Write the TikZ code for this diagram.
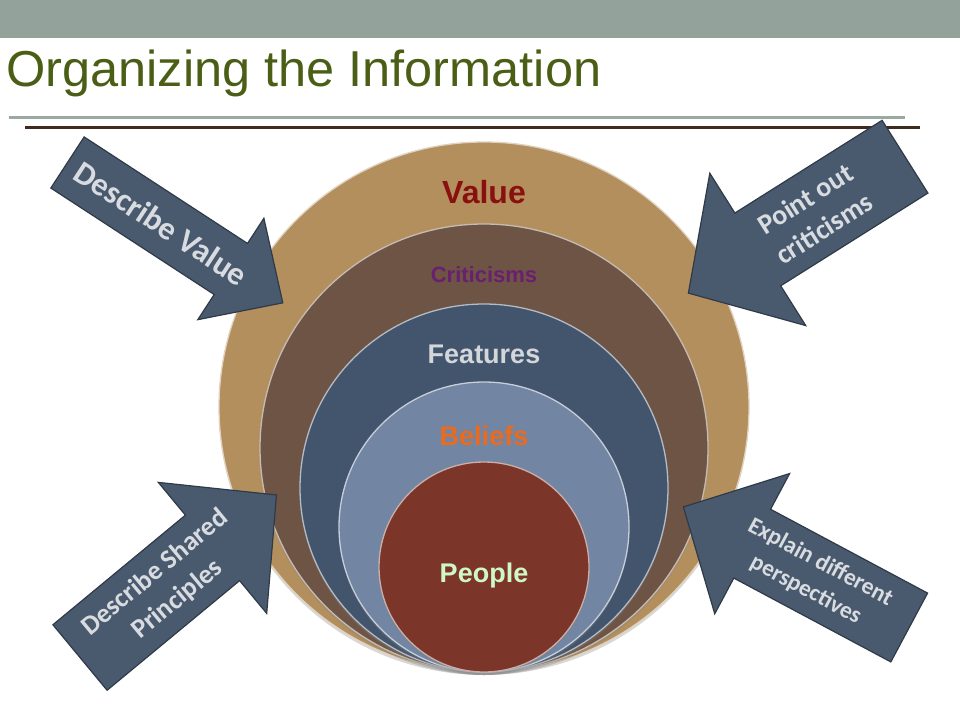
\documentclass[tikz,border=0pt]{standalone}
\usepackage{fontspec}
\setmainfont{Liberation Sans}
\newfontfamily\arrowfont{Carlito}
\usepackage{tikz}
\usetikzlibrary{positioning,shadows}

\definecolor{barGray}{HTML}{93A29A}
\definecolor{lineGray}{HTML}{9AA9A1}
\definecolor{lineBrown}{HTML}{3F2A20}
\definecolor{titleGreen}{HTML}{4B5E16}
\definecolor{valueTan}{HTML}{B38F5E}
\definecolor{critBrown}{HTML}{6D5445}
\definecolor{featBlue}{HTML}{42556D}
\definecolor{belBlue}{HTML}{7285A2}
\definecolor{peopleRed}{HTML}{7B3529}
\definecolor{arrowFill}{HTML}{4A5A6E}
\definecolor{arrowEdge}{HTML}{2E3A48}
\definecolor{arrowText}{HTML}{D8DCE1}

\begin{document}
\begin{tikzpicture}[x=1pt, y=-1pt,
      ring/.style={circle, inner sep=0pt, draw=white!60!#1, fill=#1, line width=1.3pt,
          drop shadow={shadow xshift=0pt, shadow yshift=-3pt, opacity=.3}},
      ringlabel/.style={anchor=base, font=\bfseries\fontsize{#1}{#1}\selectfont},
      arrowbox/.style={fill=arrowFill, draw=arrowEdge, line width=1.2pt, line join=miter},
      arrowlabel/.style 2 args={align=center, text=arrowText, inner sep=0pt,
          font=\arrowfont\bfseries\fontsize{#1}{#2}\selectfont}]
      \useasboundingbox (0,0) rectangle (960,720);
      \fill[white] (0,0) rectangle (960,720);

      % header
      \fill[barGray] (0,0) rectangle (960,37.5);
      \node[anchor=base west, inner sep=0pt, text=titleGreen,
          font=\fontsize{50.5}{60}\selectfont] (title) at (6,86) {Organizing the Information};
      \coordinate (g1) at (9,117);   \coordinate (g2) at (905,117);
      \coordinate (b1) at (25,127);  \coordinate (b2) at (920,127);
      \draw[lineGray, line width=3pt] (g1) -- (g2);
      \draw[lineBrown, line width=3pt] (b1) -- (b2);

      % nested circles, all touching at the bottom
      \node[ring=valueTan, minimum size=530pt] (value) at (484,407) {};
      \node[ring=critBrown, minimum size=448pt] (crit) at (484,448) {};
      \node[ring=featBlue, minimum size=368pt] (feat) at (484,488) {};
      \node[ring=belBlue, minimum size=290pt] (bel) at (484,527) {};
      \node[ring=peopleRed, minimum size=210pt] (people) at (484,567) {};

      \node[ringlabel=32, text={rgb,255:red,138;green,15;blue,15}] (lvalue) at (484,203) {Value};
      \node[ringlabel=22, text={rgb,255:red,107;green,31;blue,112}] (lcrit) at (484,282) {Criticisms};
      \node[ringlabel=27, text={rgb,255:red,211;green,215;blue,218}] (lfeat) at (484,363.5) {Features};
      \node[ringlabel=27, text={rgb,255:red,234;green,106;blue,30}] (lbel) at (484,445) {Beliefs};
      \node[ringlabel=27, text={rgb,255:red,207;green,247;blue,200}] (lpeople) at (484,582) {People};

      % block arrows
      \begin{scope}[shift={(67.5,162.5)}, rotate=-33.1]
          \draw[arrowbox] (0,-30.5) -- (195,-30.5) -- (195,-60.5) -- (257,0)
              -- (195,60.5) -- (195,30.5) -- (0,30.5) -- cycle;
          \node[arrowlabel={32.5}{39}, rotate=-33.1] (dvalue) at (112,0) {Describe Value};
      \end{scope}
      \begin{scope}[shift={(905,156.7)}, rotate=32.2]
          \draw[arrowbox] (0,-43) -- (-174,-43) -- (-174,-90) -- (-256,0)
              -- (-174,90) -- (-174,43) -- (0,43) -- cycle;
          \node[arrowlabel={28}{35}, rotate=32.2] (pcrit) at (-107,0) {Point out\\criticisms};
      \end{scope}
      \begin{scope}[shift={(80,657.5)}, rotate=39.6]
          \draw[arrowbox] (0,-42.5) -- (172,-42.5) -- (172,-85) -- (255,0)
              -- (172,85) -- (172,42.5) -- (0,42.5) -- cycle;
          \node[arrowlabel={27}{35}, rotate=39.6] (dshared) at (112,0) {Describe Shared\\Principles};
      \end{scope}
      \begin{scope}[shift={(909.2,627.5)}, rotate=-28.1]
          \draw[arrowbox] (0,-39) -- (-178,-39) -- (-178,-79.5) -- (-256,0)
              -- (-178,79.5) -- (-178,39) -- (0,39) -- cycle;
          \node[arrowlabel={23.5}{31}, rotate=-28.1] (eperspec) at (-109,0) {Explain different\\perspectives};
      \end{scope}
\end{tikzpicture}
\end{document}
